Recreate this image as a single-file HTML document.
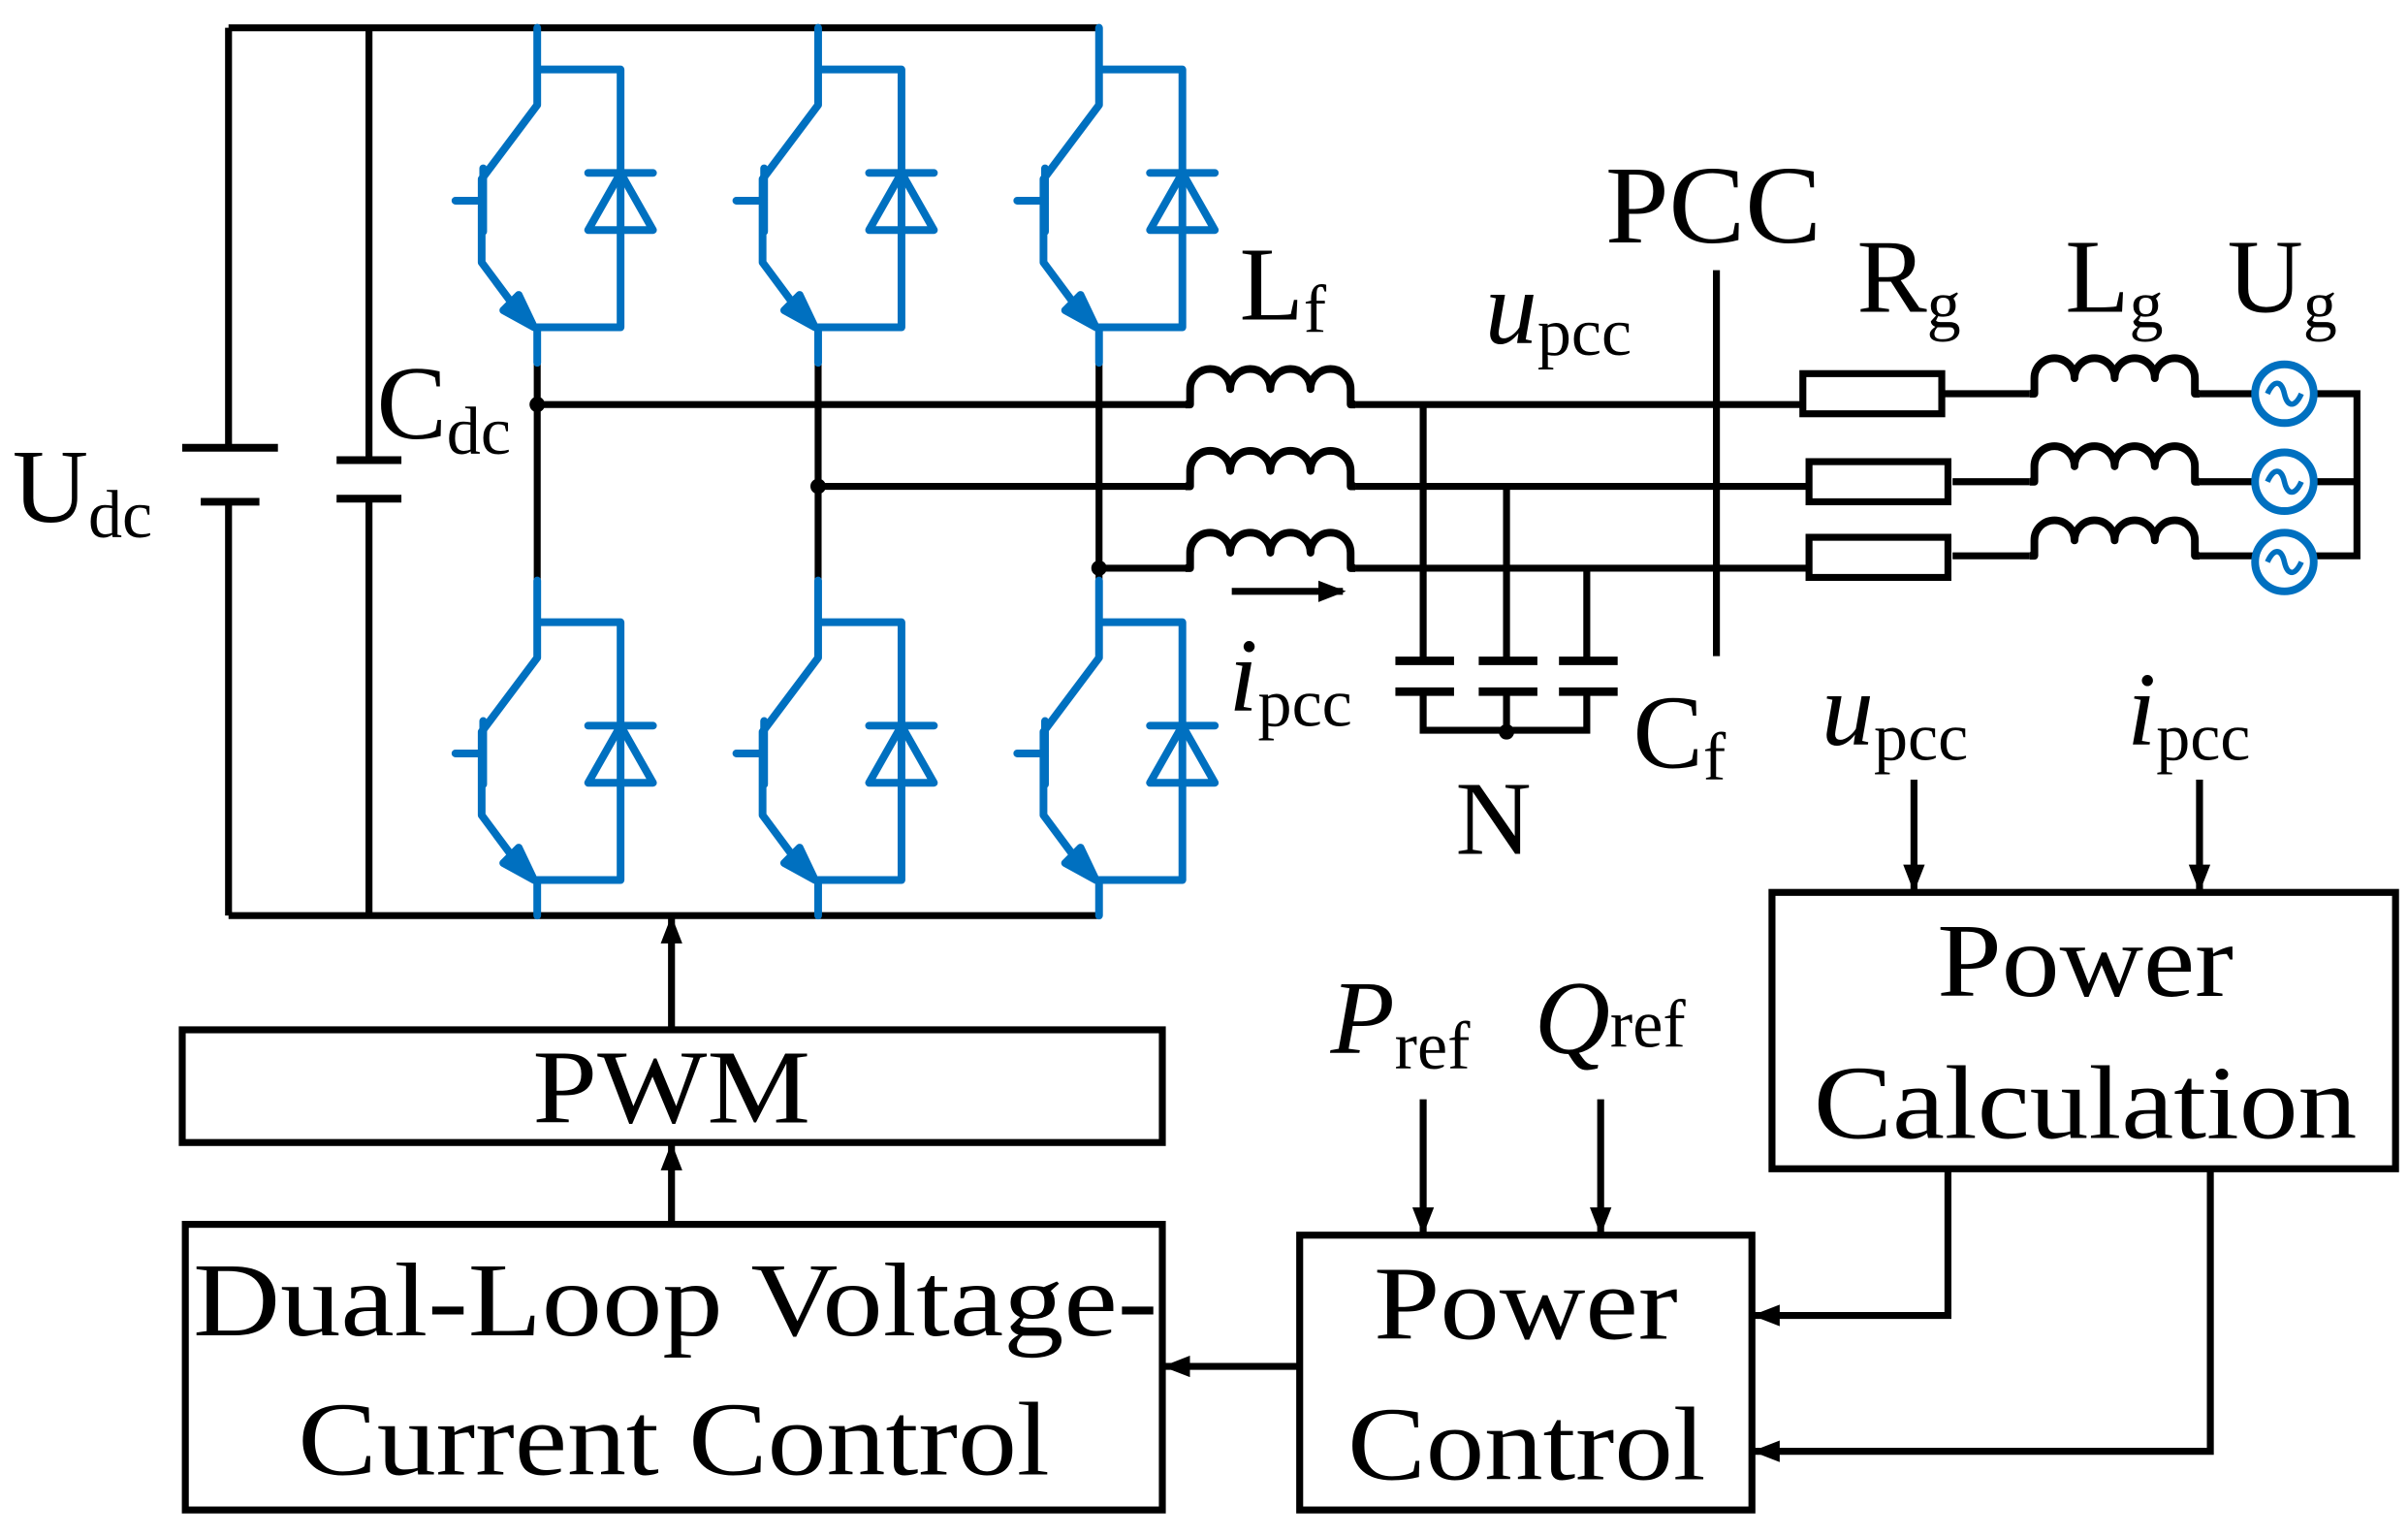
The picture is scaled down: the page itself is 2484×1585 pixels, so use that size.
<!DOCTYPE html>
<html><head><meta charset="utf-8"><style>html,body{margin:0;padding:0;background:#fff}svg{display:block}text{font-family:"Liberation Serif","Times New Roman",serif}</style></head><body>
<svg width="2484" height="1585" viewBox="0 0 1560 995.5" xmlns="http://www.w3.org/2000/svg">
<defs>
<g id="sw" fill="none" stroke="#0070c0" stroke-width="5" stroke-linecap="round" stroke-linejoin="round">
 <path d="M0,0 V27 M0,27 H54 V194 H0 M0,27 V50 L-36,98 V152 L-10,187 M0,194 V217"/>
 <polygon points="-2,194 -22,183 -12,173" fill="#0070c0"/>
 <path d="M-53,112 H-35 M-35,91 V132"/>
 <path d="M33,94 H75 M33,131 H75 L54,94 L33,131 Z"/>
</g>
<g id="ind" fill="none" stroke="#000" stroke-width="5" stroke-linejoin="round">
 <path d="M0,0 H3 V-10 A13,13 0 0 1 29,-10 A13,13 0 0 1 55,-10 A13,13 0 0 1 81,-10 A13,13 0 0 1 107,-10 V0 H110"/>
</g>
<g id="src" fill="none" stroke="#0070c0" stroke-width="5">
 <circle cx="0" cy="0" r="19"/>
 <path d="M-11,0 C-7,-9 -2,-9 0,0 C2,9 7,9 11,0" stroke-width="3.5"/>
</g>
<marker id="ah" markerWidth="18" markerHeight="16" refX="16" refY="7" orient="auto" markerUnits="userSpaceOnUse" viewBox="0 0 18 14"><path d="M0,0 L18,7 L0,14 Z" fill="#000"/></marker>
</defs>
<g stroke="#000" stroke-width="4.5" fill="none">
 <path d="M148,18 H712 M148,593 H712 M148,18 V290 M148,325 V593 M239,18 V298 M239,323 V593"/>
 <path d="M118,290 H180 M130,325 H168" stroke-width="5"/>
 <path d="M218,298 H260 M218,323 H260" stroke-width="5"/>
 <path d="M348,235 V378 M530,235 V378 M712,235 V378"/>
 <path d="M348,262 H770 M530,315 H770 M712,368 H770"/>
 <path d="M878,262 H1168 M878,315 H1172 M878,368 H1172"/>
 <path d="M1258,255 H1315 M1265,312 H1315 M1265,360 H1315"/>
 <path d="M1425,255 H1461 M1425,312 H1461 M1425,360 H1461"/>
 <path d="M1499,255 H1527 V360 H1499 M1499,312 H1527"/>
 <rect x="1168" y="242" width="90" height="26"/>
 <rect x="1172" y="299" width="90" height="26"/>
 <rect x="1172" y="348" width="90" height="26"/>
 <path d="M922,262 V428 M976,315 V428 M1028,368 V428"/>
 <path d="M904,428 H942 M958,428 H996 M1010,428 H1048 M904,448 H942 M958,448 H996 M1010,448 H1048" stroke-width="5.5"/>
 <path d="M922,448 V473 H1028 V448 M976,448 V473"/>
 <path d="M1112,175 V425"/>
 <rect x="1148" y="578" width="404" height="179"/>
 <rect x="842" y="800" width="293" height="178"/>
 <rect x="120" y="793" width="633" height="185"/>
 <rect x="118" y="667" width="635" height="73"/>
 <path d="M1240,505 V576" marker-end="url(#ah)"/>
 <path d="M1425,505 V576" marker-end="url(#ah)"/>
 <path d="M922,712 V798" marker-end="url(#ah)"/>
 <path d="M1037,712 V798" marker-end="url(#ah)"/>
 <path d="M435,793 V742" marker-end="url(#ah)"/>
 <path d="M435,667 V595" marker-end="url(#ah)"/>
 <path d="M842,885 H755" marker-end="url(#ah)"/>
 <path d="M1262,757 V852 H1137" marker-end="url(#ah)"/>
 <path d="M1432,757 V940 H1137" marker-end="url(#ah)"/>
 <path d="M798,383 H870" marker-end="url(#ah)"/>
</g>
<g fill="#000">
 <circle cx="348" cy="262" r="5"/><circle cx="530" cy="315" r="5"/><circle cx="712" cy="368" r="5"/><circle cx="976" cy="474" r="5"/>
</g>
<use href="#sw" x="348" y="18"/><use href="#sw" x="530" y="18"/><use href="#sw" x="712" y="18"/>
<use href="#sw" x="348" y="376"/><use href="#sw" x="530" y="376"/><use href="#sw" x="712" y="376"/>
<use href="#ind" x="768" y="262"/><use href="#ind" x="768" y="315"/><use href="#ind" x="768" y="368"/>
<use href="#ind" x="1315" y="255"/><use href="#ind" x="1315" y="312"/><use href="#ind" x="1315" y="360"/>
<use href="#src" x="1480" y="255"/><use href="#src" x="1480" y="312"/><use href="#src" x="1480" y="364"/>
<g fill="#000" font-size="68">
 <text x="8" y="338">U<tspan font-size="44" dy="10">dc</tspan></text>
 <text x="244" y="284">C<tspan font-size="44" dy="10">dc</tspan></text>
 <text x="803" y="207">L<tspan font-size="44" dy="8">f</tspan></text>
 <text x="962" y="222"><tspan font-style="italic">u</tspan><tspan font-size="44" dy="8">pcc</tspan></text>
 <text x="1040" y="157" font-size="72" textLength="140" lengthAdjust="spacingAndGlyphs">PCC</text>
 <text x="1203" y="202">R<tspan font-size="44" dy="10">g</tspan></text>
 <text x="1338" y="202">L<tspan font-size="44" dy="10">g</tspan></text>
 <text x="1443" y="202">U<tspan font-size="44" dy="10">g</tspan></text>
 <text x="796" y="460"><tspan font-style="italic">i</tspan><tspan font-size="44" dy="10">pcc</tspan></text>
 <text x="943" y="553">N</text>
 <text x="1058" y="497">C<tspan font-size="44" dy="8">f</tspan></text>
 <text x="1180" y="482"><tspan font-style="italic">u</tspan><tspan font-size="44" dy="10">pcc</tspan></text>
 <text x="1378" y="482"><tspan font-style="italic">i</tspan><tspan font-size="44" dy="10">pcc</tspan></text>
 <text x="862" y="682"><tspan font-style="italic">P</tspan><tspan font-size="44" dy="10">ref</tspan></text>
 <text x="994" y="682"><tspan font-style="italic">Q</tspan><tspan font-size="44" dy="-4">ref</tspan></text>
 <text x="1255" y="645" textLength="192" lengthAdjust="spacingAndGlyphs">Power</text>
 <text x="1175" y="737" textLength="352" lengthAdjust="spacingAndGlyphs">Calculation</text>
 <text x="890" y="867" textLength="197" lengthAdjust="spacingAndGlyphs">Power</text>
 <text x="873" y="958" textLength="232" lengthAdjust="spacingAndGlyphs">Control</text>
 <text x="125" y="865" textLength="625" lengthAdjust="spacingAndGlyphs">Dual-Loop Voltage-</text>
 <text x="193" y="955" textLength="487" lengthAdjust="spacingAndGlyphs">Current Control</text>
 <text x="345" y="727" textLength="180" lengthAdjust="spacingAndGlyphs">PWM</text>
</g>
</svg>
</body></html>
